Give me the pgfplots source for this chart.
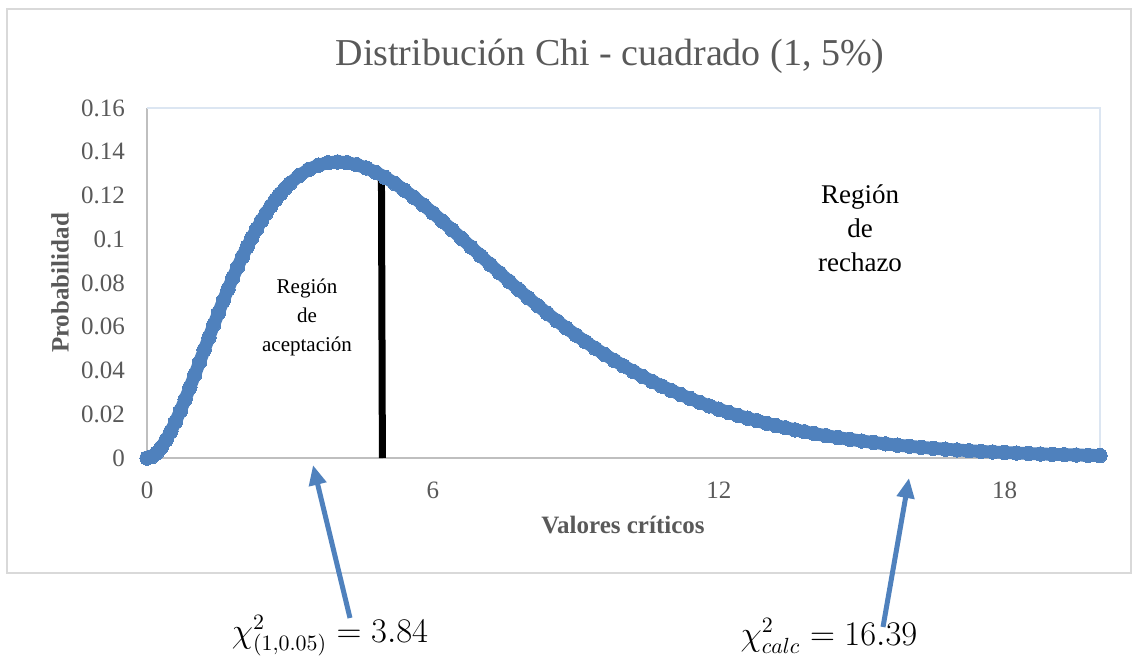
\documentclass[border=0pt]{standalone}
\usepackage{pgfplots}
\pgfplotsset{compat=1.18}
\usepackage{fontspec}
\setmainfont{Liberation Serif}
\usetikzlibrary{arrows.meta}
\definecolor{serie}{HTML}{4F81BD}
\definecolor{texto}{HTML}{595959}
\definecolor{eje}{HTML}{BFBFBF}
\definecolor{marco}{HTML}{D9D9D9}
\definecolor{borde}{HTML}{DCE6F2}

\begin{document}
\begin{tikzpicture}
\begin{axis}[
  at={(73.5pt,-229pt)}, anchor=south west,
  scale only axis, width=476.5pt, height=175pt,
  xmin=0, xmax=20, ymin=0, ymax=0.16,
  xtick={0,6,12,18},
  ytick={0,0.02,0.04,0.06,0.08,0.1,0.12,0.14,0.16},
  scaled y ticks=false,
  axis x line*=bottom, axis y line*=left,
  axis line style={eje, line width=0.8pt, -},
  major tick length=0pt,
  tick label style={font=\fontsize{12.5}{14}\selectfont, text=texto},
  /pgf/number format/assume math mode=true,
  yticklabel style={/pgf/number format/fixed, /pgf/number format/precision=2, xshift=-7.5pt},
  xticklabel style={yshift=-8.5pt},
  clip=false,
]
\draw[borde, line width=0.6pt] (rel axis cs:0,1) -- (rel axis cs:1,1) -- (rel axis cs:1,0);
% chi-cuadrado: curva
\addplot[serie, line width=6.4pt, mark=*, mark size=3.6pt,
  mark options={draw=none, fill=serie, line width=0pt}]
coordinates {
  (0,0) (0.1,0.000595) (0.2,0.002262) (0.3,0.004841) (0.4,0.008187)
  (0.5,0.012169) (0.6,0.016668) (0.7,0.021581) (0.8,0.026813) (0.9,0.032280)
  (1.0,0.037908) (1.1,0.043632) (1.2,0.049393) (1.3,0.055141) (1.4,0.060832)
  (1.5,0.066427) (1.6,0.071893) (1.7,0.077202) (1.8,0.082330) (1.9,0.087259)
  (2.0,0.091970) (2.1,0.096452) (2.2,0.100693) (2.3,0.104688) (2.4,0.108430)
  (2.5,0.111916) (2.6,0.115145) (2.7,0.118116) (2.8,0.120833) (2.9,0.123296)
  (3.0,0.125511) (3.2,0.129214) (3.4,0.131989) (3.6,0.133892) (3.8,0.134986)
  (4.0,0.135335) (4.2,0.135008) (4.4,0.134072) (4.6,0.132593) (4.8,0.130634)
  (5.0,0.128258) (5.2,0.125523) (5.4,0.122483) (5.6,0.119188) (5.8,0.115686)
  (6.0,0.112021) (6.2,0.108230) (6.4,0.104351) (6.6,0.100414) (6.8,0.096448)
  (7.0,0.092478) (7.2,0.088530) (7.4,0.084618) (7.6,0.080759) (7.8,0.076970)
  (8.0,0.073264) (8.2,0.069648) (8.4,0.066132) (8.6,0.062723) (8.8,0.059421)
  (9.0,0.056239) (9.2,0.053175) (9.4,0.050227) (9.6,0.047405) (9.8,0.044701)
  (10.0,0.042113) (10.2,0.039646) (10.4,0.037295) (10.6,0.035056) (10.8,0.032929)
  (11.0,0.030908) (11.2,0.028992) (11.4,0.027178) (11.6,0.025465) (11.8,0.023836)
  (12.0,0.022311) (12.2,0.020866) (12.4,0.019499) (12.6,0.018218) (12.8,0.017019)
  (13.0,0.015875) (13.2,0.014810) (13.4,0.013815) (13.6,0.012878) (13.8,0.011998)
  (14.0,0.011172) (14.25,0.010217) (14.5,0.009330) (14.75,0.008525) (15.0,0.007777)
  (15.25,0.007093) (15.5,0.006472) (15.75,0.005891) (16.0,0.005367) (16.25,0.004885)
  (16.5,0.004441) (16.75,0.004033) (17.0,0.003667) (17.25,0.003329) (17.5,0.003024)
  (17.75,0.002753) (18.0,0.002499) (18.25,0.002267) (18.5,0.002056) (18.75,0.001865)
  (19.0,0.001690) (19.25,0.001531) (19.5,0.001386) (19.75,0.001254) (20.0,0.001135)
};
% linea de corte
\addplot[black, line width=3.5pt] coordinates {(4.94,0) (4.92,0.13)};
\end{axis}

\begin{scope}[x=0.5pt, y=-0.5pt]
\path (0,0) rectangle (1134,657);
\draw[marco, line width=0.75pt] (7,9) rectangle (1131,573);
\node[text=texto, font=\fontsize{19}{22}\selectfont] at (610,56)
  {Distribución Chi - cuadrado (1, 5\%)};
\node[text=texto, font=\bfseries\fontsize{12.5}{15}\selectfont, rotate=90] at (60,283)
  {Probabilidad};
\node[text=texto, font=\bfseries\fontsize{12.5}{15}\selectfont] at (623,525)
  {Valores críticos};
\node[align=center, font=\fontsize{10.5}{14.5}\selectfont] at (307,317)
  {Región\\de\\aceptación};
\node[align=center, font=\fontsize{13.5}{17}\selectfont] at (860,228)
  {Región\\de\\rechazo};
\node[font=\fontsize{16}{19}\selectfont] at (330,636) {$\chi^2_{(1,0.05)} = 3.84$};
\node[font=\fontsize{16}{19}\selectfont] at (829,636) {$\chi^2_{calc} = 16.39$};
\draw[serie, line width=2.5pt, -{Triangle[length=10pt,width=8.5pt]}] (350,618) -- (313,465);
\draw[serie, line width=2.5pt, -{Triangle[length=10pt,width=8.5pt]}] (883,627) -- (909,478);
\end{scope}
\end{tikzpicture}
\end{document}
